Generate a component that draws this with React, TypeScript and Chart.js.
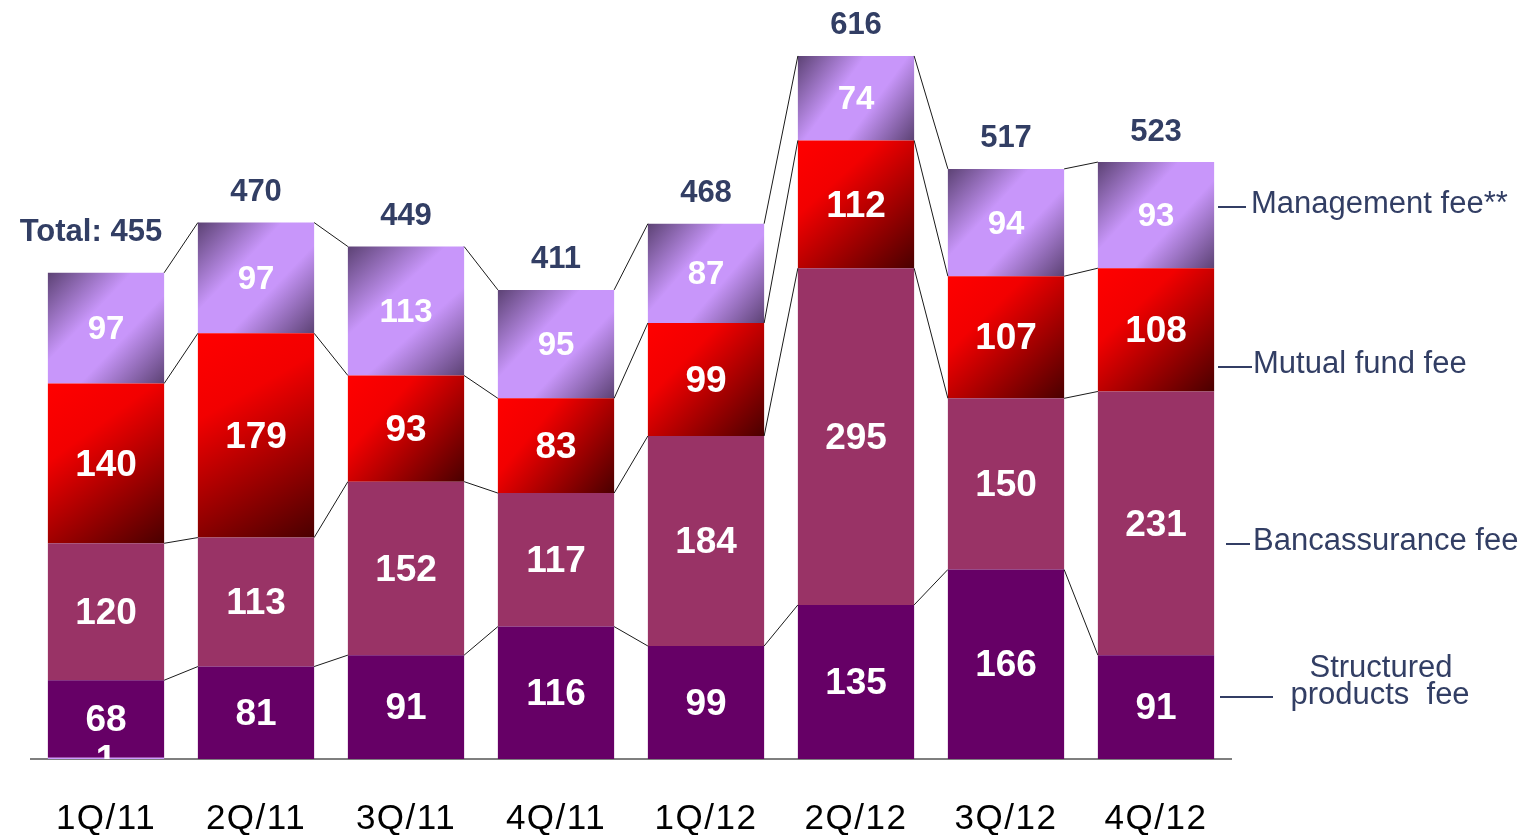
import { useEffect, useRef } from "react";
import { Chart, registerables } from "chart.js";

Chart.register(...registerables);

const categories = ["1Q/11", "2Q/11", "3Q/11", "4Q/11", "1Q/12", "2Q/12", "3Q/12", "4Q/12"];
const otherFee = [1, 0, 0, 0, 0, 0, 0, 0];
const structuredFee = [68, 81, 91, 116, 99, 135, 166, 91];
const bancassuranceFee = [120, 113, 152, 117, 184, 295, 150, 231];
const mutualFundFee = [140, 179, 93, 83, 99, 112, 107, 108];
const managementFee = [97, 97, 113, 95, 87, 74, 94, 93];
const totals = [455, 470, 449, 411, 468, 616, 517, 523];

const FONT = '"Liberation Sans", Arial, Helvetica, sans-serif';
const NAVY = "#323e64";

const mgmtStops: [number, string][] = [
  [0, "#5c4274"],
  [0.38, "#c896fa"],
  [0.62, "#c896fa"],
  [1, "#5c4274"],
];
const mutualStops: [number, string][] = [
  [0, "#ff0000"],
  [0.32, "#f20000"],
  [1, "#4a0000"],
];

const gradientPlugin = {
  id: "segGradient",
  beforeDatasetsDraw(chart: any) {
    const ctx = chart.ctx;
    ctx.letterSpacing = "0px";
    chart.data.datasets.forEach((ds: any, di: number) => {
      const stops = ds.gradientStops;
      if (!stops) return;
      const meta = chart.getDatasetMeta(di);
      meta.data.forEach((el: any) => {
        const { x, y, base, width } = el.getProps(["x", "y", "base", "width"], true);
        const top = Math.min(y, base);
        const bottom = Math.max(y, base);
        const g = ctx.createLinearGradient(x - width / 2, top, x + width / 2, bottom);
        stops.forEach(([o, c]: [number, string]) => g.addColorStop(o, c));
        el.options.backgroundColor = g;
      });
    });
  },
};

const spacingPlugin = {
  id: "tickSpacing",
  beforeDraw(chart: any) {
    chart.ctx.letterSpacing = "1.5px";
  },
};

const overlayPlugin = {
  id: "overlay",
  afterDatasetsDraw(chart: any) {
    const ctx = chart.ctx;
    const area = chart.chartArea;
    const n = categories.length;
    const last = chart.data.datasets.length - 1;

    // connector lines between bars at each segment boundary
    ctx.save();
    ctx.strokeStyle = "#1a1a1a";
    ctx.lineWidth = 1;
    for (let di = 1; di <= last; di++) {
      const meta = chart.getDatasetMeta(di);
      for (let i = 0; i < n - 1; i++) {
        const a = meta.data[i];
        const b = meta.data[i + 1];
        ctx.beginPath();
        ctx.moveTo(a.x + a.width / 2, a.y);
        ctx.lineTo(b.x - b.width / 2, b.y);
        ctx.stroke();
      }
    }
    ctx.restore();

    // segment value labels
    ctx.save();
    ctx.beginPath();
    ctx.rect(area.left, area.top - 100, area.right - area.left, area.bottom - area.top + 100);
    ctx.clip();
    ctx.fillStyle = "#ffffff";
    ctx.textAlign = "center";
    ctx.textBaseline = "middle";
    chart.data.datasets.forEach((ds: any, di: number) => {
      const meta = chart.getDatasetMeta(di);
      ctx.font = di === last ? `bold 33px ${FONT}` : `bold 37px ${FONT}`;
      meta.data.forEach((el: any, i: number) => {
        const v = ds.data[i];
        if (!v) return;
        ctx.fillText(String(v), el.x, (el.y + el.base) / 2 + 2);
      });
    });
    ctx.restore();

    // totals
    ctx.save();
    ctx.fillStyle = NAVY;
    ctx.font = `bold 31px ${FONT}`;
    ctx.textBaseline = "middle";
    const topMeta = chart.getDatasetMeta(last);
    topMeta.data.forEach((el: any, i: number) => {
      if (i === 0) {
        ctx.textAlign = "right";
        ctx.fillText(`Total: ${totals[i]}`, el.x + el.width / 2 - 2, el.y - 40);
      } else {
        ctx.textAlign = "center";
        ctx.fillText(String(totals[i]), el.x, el.y - 30);
      }
    });
    ctx.restore();
  },
  afterDraw(chart: any) {
    const ctx = chart.ctx;
    ctx.save();
    ctx.letterSpacing = "0px";
    ctx.strokeStyle = NAVY;
    ctx.fillStyle = NAVY;
    ctx.lineWidth = 2;
    ctx.font = `31px ${FONT}`;
    ctx.textBaseline = "middle";
    const line = (x1: number, x2: number, y: number) => {
      ctx.beginPath();
      ctx.moveTo(x1, y);
      ctx.lineTo(x2, y);
      ctx.stroke();
    };
    line(1218, 1246, 207);
    ctx.textAlign = "left";
    ctx.fillText("Management fee**", 1251, 204);
    line(1218, 1252, 367);
    ctx.fillText("Mutual fund fee", 1253, 364);
    line(1226, 1250, 544);
    ctx.fillText("Bancassurance fee", 1253, 541);
    line(1220, 1273, 697);
    ctx.textAlign = "center";
    ctx.fillText("Structured", 1381, 668);
    ctx.fillText("products  fee", 1380, 695);
    ctx.restore();
  },
};

export default function App() {
  const ref = useRef<HTMLCanvasElement | null>(null);

  useEffect(() => {
    if (!ref.current) return;
    const chart = new Chart(ref.current, {
      type: "bar",
      data: {
        labels: categories,
        datasets: [
          { label: "Other", data: otherFee, backgroundColor: "#cc99ff" },
          { label: "Structured products fee", data: structuredFee, backgroundColor: "#660066" },
          { label: "Bancassurance fee", data: bancassuranceFee, backgroundColor: "#993366" },
          {
            label: "Mutual fund fee",
            data: mutualFundFee,
            backgroundColor: () => "#ff0000",
            gradientStops: mutualStops,
          } as any,
          {
            label: "Management fee**",
            data: managementFee,
            backgroundColor: () => "#c896fa",
            gradientStops: mgmtStops,
          } as any,
        ],
      },
      options: {
        animation: false,
        responsive: true,
        maintainAspectRatio: false,
        events: [],
        layout: { padding: { left: 31, right: 297, top: 0, bottom: 0 } },
        datasets: { bar: { categoryPercentage: 1, barPercentage: 0.775, borderWidth: 0 } },
        plugins: { legend: { display: false }, tooltip: { enabled: false } },
        scales: {
          x: {
            stacked: true,
            grid: { display: false, drawTicks: false },
            border: { display: true, color: "#7f7f7f", width: 2 },
            ticks: {
              color: "#000000",
              padding: 40,
              font: { family: FONT, size: 35, lineHeight: 1.15 },
            },
            afterFit(scale: any) {
              scale.height = 76;
            },
          },
          y: {
            stacked: true,
            display: false,
            min: 0,
            max: 665,
          },
        },
      },
      plugins: [spacingPlugin, gradientPlugin, overlayPlugin],
    });
    return () => chart.destroy();
  }, []);

  return (
    <div style={{ position: "fixed", left: 0, top: 0, width: 1528, height: 835, background: "#ffffff" }}>
      <canvas ref={ref} />
    </div>
  );
}
